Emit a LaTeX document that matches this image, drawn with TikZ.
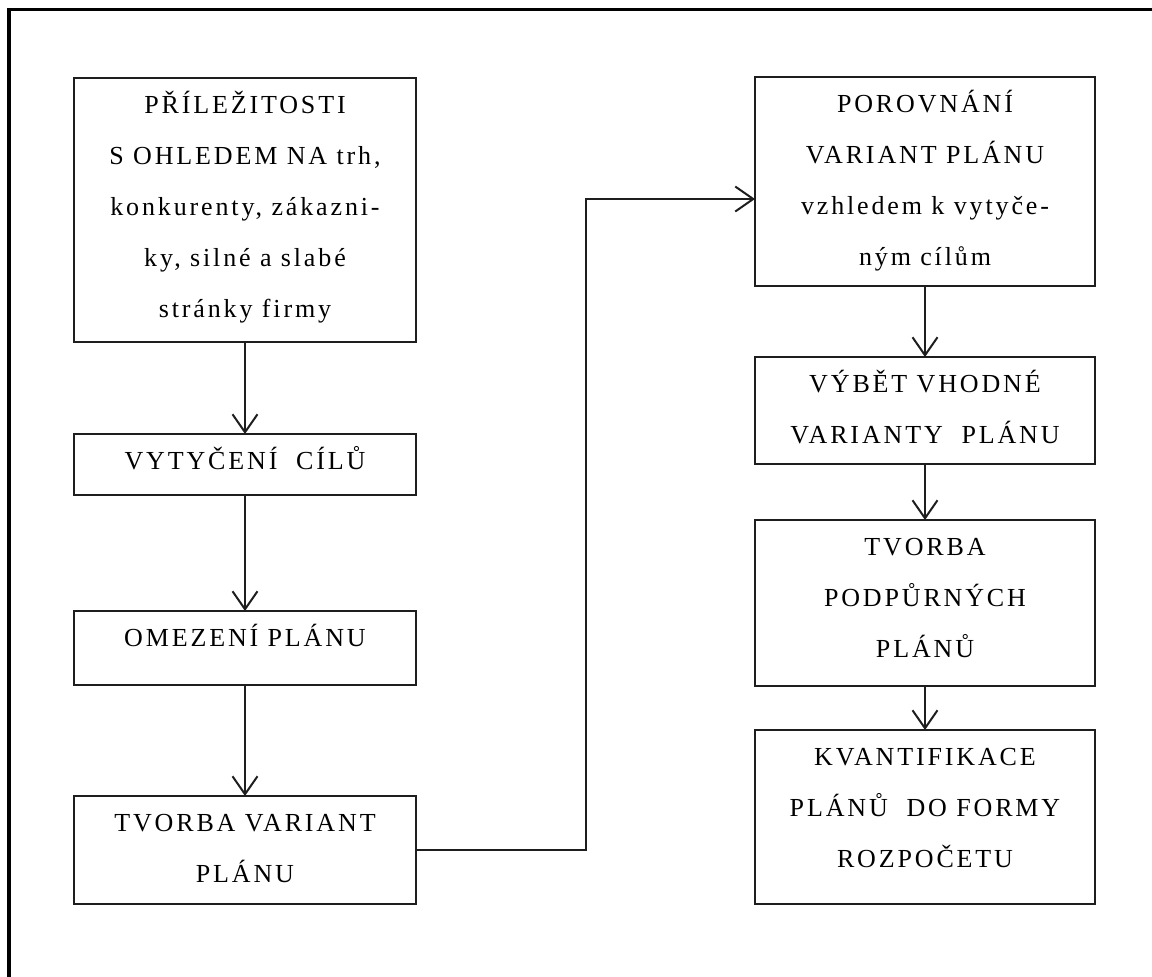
\documentclass[tikz,border=0pt]{standalone}
\usepackage{fontspec}
\newfontfamily\boxfont[LetterSpace=11]{Liberation Serif}
\usetikzlibrary{arrows.meta}

% one drawing unit = one pixel of the layout grid
\newlength\pxu
\setlength\pxu{0.5pt}

% fixed-size box content: text set from the top, centred line by line
\newcommand\boxtext[3]{%
  \parbox[c][#2\pxu][t]{#1\pxu}{\centering\boxfont
    \fontsize{13pt}{25.5pt}\selectfont
    \rule{0pt}{35.5\pxu}#3}}

\definecolor{ink}{HTML}{1E1E1E}

\tikzset{
  stagebox/.style={draw=ink, line width=1.1pt, inner sep=0pt, outer sep=0pt,
    anchor=north west},
  flow/.style={draw=ink, line width=1pt,
    -{Straight Barb[length=9pt, width=12.5pt, line width=1pt]}},
  frameline/.style={draw=black, line width=1.7pt}
}

\begin{document}
\begin{tikzpicture}[x=0.5pt, y=-0.5pt]
  \useasboundingbox (0,0) rectangle (1152,976);
  \begin{scope}
    \clip (0,0) rectangle (1152,976);
    \draw[frameline] (9,9.5) rectangle (1190,1010);
  \end{scope}

  % left column
  \node[stagebox] (L1) at (74,78) {\boxtext{342}{264}{%
      PŘÍLEŽITOSTI\\ S OHLEDEM NA trh,\\ konkurenty, zákazni-\\
      ky, silné a slabé\\ stránky firmy}};
  \node[stagebox] (L2) at (74,434) {\boxtext{342}{61}{VYTYČENÍ~~CÍLŮ}};
  \node[stagebox] (L3) at (74,611) {\boxtext{342}{74}{OMEZENÍ PLÁNU}};
  \node[stagebox] (L4) at (74,796) {\boxtext{342}{108}{TVORBA VARIANT\\ PLÁNU}};

  % right column
  \node[stagebox] (R1) at (755,77) {\boxtext{340}{209}{%
      POROVNÁNÍ\\ VARIANT PLÁNU\\ vzhledem k vytyče-\\ ným cílům}};
  \node[stagebox] (R2) at (755,357) {\boxtext{340}{107}{%
      VÝBĚT VHODNÉ\\ VARIANTY~~PLÁNU}};
  \node[stagebox] (R3) at (755,520) {\boxtext{340}{166}{%
      TVORBA\\ PODPŮRNÝCH\\ PLÁNŮ}};
  \node[stagebox] (R4) at (755,730) {\boxtext{340}{174}{%
      KVANTIFIKACE\\ PLÁNŮ~~DO FORMY\\ ROZPOČETU}};

  % connectors
  \draw[flow] (L1.south) -- (L2.north);
  \draw[flow] (L2.south) -- (L3.north);
  \draw[flow] (L3.south) -- (L4.north);

  \coordinate (turn) at (586,199);
  \draw[flow] (L4.east) -| (turn) -- (turn -| R1.west);

  \draw[flow] (R1.south) -- (R2.north);
  \draw[flow] (R2.south) -- (R3.north);
  \draw[flow] (R3.south) -- (R4.north);
\end{tikzpicture}
\end{document}
